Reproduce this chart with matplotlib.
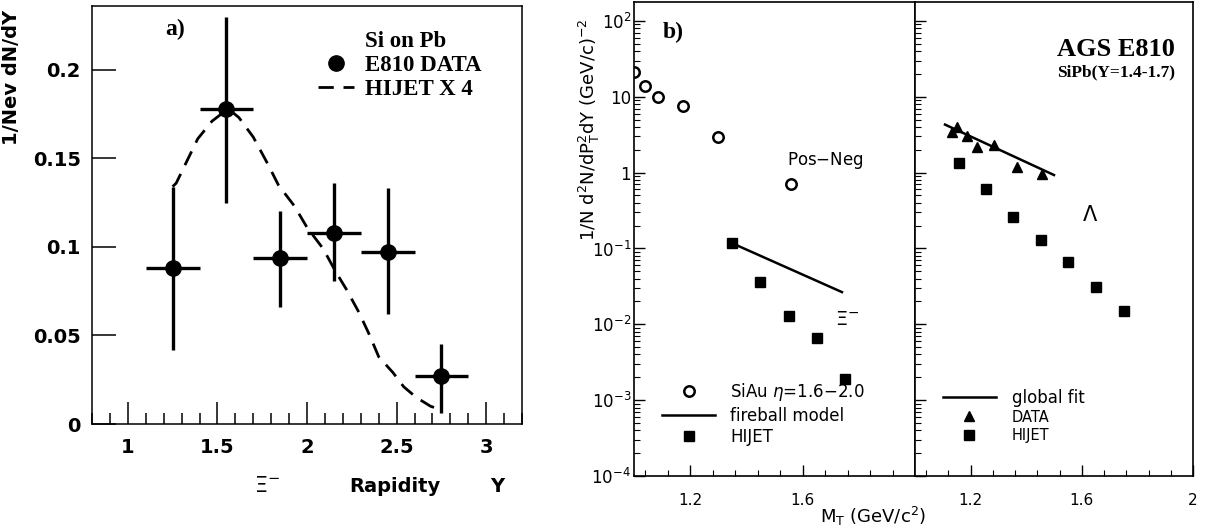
import matplotlib
matplotlib.use('Agg')
import matplotlib.pyplot as plt
from matplotlib.lines import Line2D
from matplotlib.ticker import FixedLocator, MultipleLocator, FixedFormatter, LogLocator, NullFormatter
import numpy as np

plt.rcParams['mathtext.fontset'] = 'dejavusans'

# panel a: Xi- rapidity distribution
rap = [1.25, 1.55, 1.85, 2.15, 2.45, 2.75]
dndy = [0.088, 0.178, 0.094, 0.108, 0.097, 0.027]
dndy_lo = [0.046, 0.053, 0.028, 0.027, 0.035, 0.021]
dndy_hi = [0.046, 0.052, 0.026, 0.028, 0.036, 0.018]
rap_err = [0.15] * 6
hijet_x = [1.25, 1.27, 1.39, 1.47, 1.56, 1.62, 1.70, 1.78, 1.84, 1.93, 2.00, 2.09,
           2.16, 2.22, 2.29, 2.35, 2.40, 2.48, 2.54, 2.61, 2.69, 2.75]
hijet_y = [0.134, 0.136, 0.161, 0.171, 0.178, 0.173, 0.162, 0.147, 0.135, 0.123, 0.111, 0.099,
           0.086, 0.076, 0.063, 0.050, 0.038, 0.029, 0.021, 0.015, 0.010, 0.008]

# panel b left: Xi- m_T spectra
siau_mt = [1.0, 1.04, 1.085, 1.175, 1.30, 1.56]
siau_val = [21, 14, 10, 7.6, 2.95, 0.71]
fire_mt = [1.35, 1.74]
fire_val = [0.117, 0.0266]
hij_mt = [1.35, 1.45, 1.55, 1.65, 1.75]
hij_val = [0.117, 0.036, 0.0128, 0.0067, 0.0019]

# panel b right: Lambda m_T spectra
lam_mt = [1.133, 1.151, 1.187, 1.223, 1.284, 1.367, 1.457]
lam_val = [3.4, 4.0, 3.0, 2.2, 2.3, 1.17, 0.96]
fit_mt = [1.108, 1.50]
fit_val = [4.3, 0.93]
lhij_mt = [1.16, 1.255, 1.352, 1.453, 1.55, 1.65, 1.75]
lhij_val = [1.34, 0.6, 0.26, 0.13, 0.066, 0.031, 0.015]

fig = plt.figure(figsize=(12.05, 5.3), dpi=100)
dash = (0, (5.5, 3.5))

# ---------------- panel a ----------------
ax = fig.add_axes([92/1205, 106/530, 430/1205, 418/530])
ax.plot(hijet_x, hijet_y, color='black', lw=2.0, ls=dash)
ax.errorbar(rap, dndy, yerr=[dndy_lo, dndy_hi], xerr=rap_err, fmt='o', color='black',
            ms=11, elinewidth=2.4, capsize=0)
ax.set_xlim(0.8, 3.2)
ax.set_ylim(0, 0.236)
ax.xaxis.set_minor_locator(MultipleLocator(0.1))
ax.xaxis.set_major_locator(FixedLocator([1, 1.5, 2, 2.5, 3]))
ax.xaxis.set_major_formatter(FixedFormatter(['1', '1.5', '2', '2.5', '3']))
ax.yaxis.set_major_locator(FixedLocator([0, 0.05, 0.1, 0.15, 0.2]))
ax.yaxis.set_major_formatter(FixedFormatter(['0', '0.05', '0.1', '0.15', '0.2']))
ax.tick_params(axis='x', which='major', direction='in', length=16, width=1.1, pad=10)
ax.tick_params(axis='x', which='minor', direction='in', length=8, width=1.1)
ax.tick_params(axis='y', which='major', direction='in', length=17, width=1.1, pad=8)
for lab in ax.get_xticklabels() + ax.get_yticklabels():
    lab.set_fontsize(14)
    lab.set_fontweight('bold')
for s in ax.spines.values():
    s.set_linewidth(1.1)
ax.set_ylabel('1/Nev dN/dY', fontsize=14, fontweight='bold')
ax.yaxis.set_label_coords(-0.165, 0.83)
ax.text(0.407, -0.148, r'$\Xi^{-}$', transform=ax.transAxes, fontsize=15,
        ha='center', va='center')
ax.text(0.705, -0.15, 'Rapidity', transform=ax.transAxes, fontsize=14,
        fontweight='bold', ha='center', va='center')
ax.text(0.942, -0.15, 'Y', transform=ax.transAxes, fontsize=14,
        fontweight='bold', ha='center', va='center')
ax.text(0.193, 0.945, 'a)', transform=ax.transAxes, fontsize=17, fontweight='bold',
        family='Liberation Serif', ha='center', va='center')
handles = [Line2D([], [], ls='none'),
           Line2D([], [], marker='o', ls='none', color='black', ms=11),
           Line2D([], [], color='black', lw=2.0, ls=dash)]
leg = ax.legend(handles, ['Si on Pb', 'E810 DATA', 'HIJET X 4'], loc='upper left',
                bbox_to_anchor=(0.525, 0.94), frameon=False, handlelength=1.6,
                handletextpad=0.45, labelspacing=0.12, borderpad=0, borderaxespad=0,
                prop={'family': 'Liberation Serif', 'weight': 'bold', 'size': 16.5})

# ---------------- panel b ----------------
ylo, yhi = 1e-4, 10**2.25
b1 = fig.add_axes([634/1205, 54/530, 281/1205, 474/530])
b2 = fig.add_axes([915/1205, 54/530, 278/1205, 474/530])

b1.plot(siau_mt, siau_val, 'o', mfc='white', mec='black', ms=7.5, mew=1.8, ls='none',
        label='SiAu $\\eta$=1.6$-$2.0')
b1.plot(fire_mt, fire_val, '-', color='black', lw=1.8, label='fireball model')
b1.plot(hij_mt, hij_val, 's', color='black', ms=6.5, ls='none', label='HIJET')

b2.plot(fit_mt, fit_val, '-', color='black', lw=1.8, label='global fit')
b2.plot(lam_mt, lam_val, '^', color='black', ms=6.5, ls='none', label='DATA')
b2.plot(lhij_mt, lhij_val, 's', color='black', ms=6.5, ls='none', label='HIJET')

for b in (b1, b2):
    b.set_yscale('log')
    b.set_ylim(ylo, yhi)
    b.set_xlim(1.0, 2.0)
    b.xaxis.set_major_locator(FixedLocator([1.2, 1.6, 2.0]))
    b.xaxis.set_minor_locator(MultipleLocator(0.08))
    b.yaxis.set_major_locator(FixedLocator([1e-4, 1e-3, 1e-2, 1e-1, 1, 10, 100]))
    b.yaxis.set_minor_locator(LogLocator(base=10, subs=np.arange(2, 10), numticks=12))
    b.yaxis.set_minor_formatter(NullFormatter())
    b.tick_params(which='major', direction='in', length=8, width=1.0, labelsize=11)
    b.tick_params(which='minor', direction='in', length=4, width=0.8)
    b.tick_params(axis='x', pad=12)
    for s in b.spines.values():
        s.set_linewidth(1.2)

b1.yaxis.set_major_formatter(FixedFormatter(
    ['$10^{-4}$', '$10^{-3}$', '$10^{-2}$', '$10^{-1}$', '1', '10', '$10^{2}$']))
b1.xaxis.set_major_formatter(FixedFormatter(['1.2', '1.6', '']))
b2.xaxis.set_major_formatter(FixedFormatter(['1.2', '1.6', '2']))
b2.yaxis.set_major_formatter(NullFormatter())
b1.tick_params(axis='y', labelsize=12, pad=2)

b1.set_ylabel(r'$\mathregular{1/N\ d^2N/dP_T^2dY\ (GeV/c)^{-2}}$', fontsize=13)
b1.yaxis.set_label_coords(-0.115, 0.73)
b1.text(0.85, -0.085, r'$\mathregular{M_T}$ (GeV/c$^2$)', transform=b1.transAxes,
        fontsize=13, ha='center', va='center')
b1.text(0.14, 0.935, 'b)', transform=b1.transAxes, fontsize=17, fontweight='bold',
        family='Liberation Serif', ha='center', va='center')
b1.text(0.68, 0.665, 'Pos$-$Neg', transform=b1.transAxes, fontsize=12,
        ha='center', va='center')
b1.text(0.76, 0.33, r'$\Xi^{-}$', transform=b1.transAxes, fontsize=14,
        ha='center', va='center')
b2.text(0.51, 0.9, 'AGS E810', transform=b2.transAxes, fontsize=19, fontweight='bold',
        family='Liberation Serif', ha='left', va='center')
b2.text(0.51, 0.852, 'SiPb(Y=1.4-1.7)', transform=b2.transAxes, fontsize=12.5,
        fontweight='bold', family='Liberation Serif', ha='left', va='center')
b2.text(0.63, 0.55, r'$\Lambda$', transform=b2.transAxes, fontsize=15,
        ha='center', va='center')

b1.legend(loc='upper left', bbox_to_anchor=(0.1, 0.2), frameon=False, handlelength=3.2,
          handletextpad=0.9, labelspacing=0.2, borderpad=0, borderaxespad=0, fontsize=12)
lg2 = b2.legend(loc='upper left', bbox_to_anchor=(0.1, 0.184), frameon=False,
                handlelength=3.2, handletextpad=0.95, labelspacing=0.2, borderpad=0,
                borderaxespad=0, fontsize=12)
for t in lg2.get_texts()[1:]:
    t.set_fontsize(10.5)

fig.savefig('out.png', dpi=100)
